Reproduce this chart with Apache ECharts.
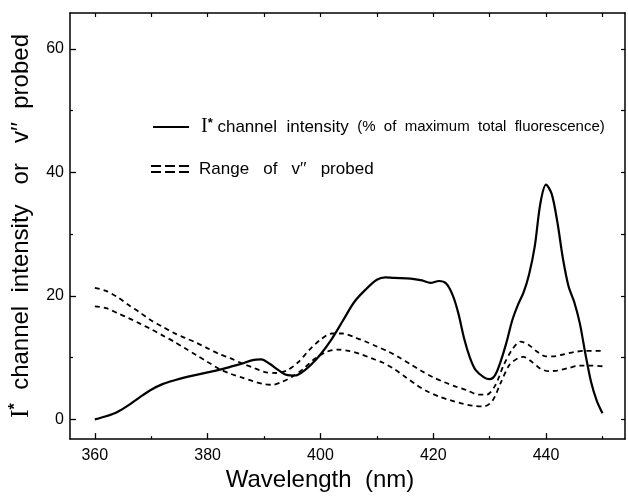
<!DOCTYPE html>
<html>
<head>
<meta charset="utf-8">
<script src="https://cdn.jsdelivr.net/npm/echarts@6/dist/echarts.min.js"></script>
<style>
html,body{margin:0;padding:0;background:#fff;}
#c{width:628px;height:497px;}
</style>
</head>
<body>
<div id="c"></div>
<script>
// ---- data ----
const xMajorTicks = [360, 380, 400, 420, 440];
const xMinorTicks = [370, 390, 410, 430, 450];
const xAllTicks = [360, 370, 380, 390, 400, 410, 420, 430, 440, 450];
const yMajorTicks = [0, 20, 40, 60];
const yMinorTicks = [10, 30, 50];
const yAllTicks = [0, 10, 20, 30, 40, 50, 60];

const intensityX = [360,362,364,366,368,370,372,374,376,378,380,382,384,386,388,389.5,391,392.5,394,395.5,397,398.5,400,402,404,406,408,410,411.5,413,416,418,419.5,421,422.3,423.5,424.5,425.5,426.5,427.5,429,430,431,432,433,434,435,436,437,438,439,440,441,442,443,444,445,446,447,448,449,450];
const intensityY = [0.0,0.5,1.2,2.3,3.6,4.8,5.7,6.3,6.8,7.2,7.6,8.0,8.5,9.0,9.6,9.7,9.0,8.0,7.2,7.1,7.8,9.0,10.5,13.0,16.0,19.0,21.0,22.6,23.0,22.9,22.8,22.5,22.1,22.4,22.0,20.0,17.0,13.0,10.0,8.0,6.8,6.5,7.2,9.5,12.5,16.0,18.5,20.5,23.5,28.0,35.0,38.0,36.5,32.0,26.0,21.5,19.0,15.5,10.5,6.0,3.0,1.0];

const upperX = [360,362,364,366,368,370,372,374,376,378,380,382,384,386,388,390,392,394,396,398,400,402,404,406,408,410,412,414,416,418,420,422,424,426,428,429.5,431,432.5,434,435.5,437,438.5,440,441.5,443,445,447,450];
const upperY = [21.3,20.8,19.8,18.5,17.3,16.0,15.0,14.0,13.2,12.4,11.5,10.6,9.9,9.1,8.4,7.7,7.5,7.9,9.2,11.2,12.9,13.9,13.9,13.3,12.6,11.8,11.0,10.0,8.9,7.8,6.8,6.0,5.3,4.7,4.0,4.0,5.5,8.8,11.3,12.6,12.0,10.9,10.2,10.2,10.5,10.9,11.1,11.1];

const lowerX = [360,362,364,366,368,370,372,374,376,378,380,382,384,386,388,390,391.5,393,395,397,399,401,403,405,407,409,411,413,415,417,419,421,423,425,427,429,430.5,432,433.5,435,436,437.5,439,440.5,442,444,446,448,450];
const lowerY = [18.3,18.0,17.2,16.4,15.5,14.6,13.6,12.6,11.5,10.4,9.3,8.2,7.4,6.8,6.2,5.7,5.6,6.0,6.9,8.2,9.8,10.9,11.3,11.1,10.6,9.9,9.2,8.2,6.9,5.6,4.5,3.7,3.1,2.6,2.2,2.1,3.0,6.0,8.8,9.9,10.1,9.3,8.2,7.8,7.9,8.3,8.7,8.7,8.6];

const zip = (xs, ys) => xs.map((x, i) => [x, ys[i]]);

const X_MIN = 355.6, X_MAX = 454.0, Y_MIN = -3.2, Y_MAX = 65.8;
const FONT = 'Liberation Sans, Arial, Helvetica, sans-serif';
const SERIF = 'Liberation Serif, Times New Roman, serif';

const frameLine = {show:true, onZero:false, lineStyle:{color:'#000', width:1.5}};
const noLine = {show:false, onZero:false};
const baseX = {type:'value', min:X_MIN, max:X_MAX, splitLine:{show:false}, axisLine:frameLine};
const baseY = {type:'value', min:Y_MIN, max:Y_MAX, splitLine:{show:false}, axisLine:frameLine};

const chart = echarts.init(document.getElementById('c'), null, {renderer:'canvas'});
chart.setOption({
  backgroundColor:'#fff',
  animation:false,
  grid:{left:70, right:3, top:13, bottom:57, containLabel:false},
  xAxis:[
    Object.assign({}, baseX, {position:'bottom',
      name:'Wavelength  (nm)', nameLocation:'middle', nameGap:24,
      nameTextStyle:{fontFamily:FONT, fontSize:24, color:'#000', padding:[0,55,0,0]},
      axisTick:{show:true, inside:true, length:6, customValues:xMajorTicks, lineStyle:{color:'#000', width:1.3}},
      axisLabel:{show:true, customValues:xMajorTicks, margin:8, fontFamily:FONT, fontSize:16, color:'#000'}}),
    Object.assign({}, baseX, {position:'bottom', axisLine:noLine,
      axisTick:{show:true, inside:true, length:3, customValues:xMinorTicks, lineStyle:{color:'#000', width:1.2}},
      axisLabel:{show:false}}),
    Object.assign({}, baseX, {position:'top',
      axisTick:{show:true, inside:true, length:4, customValues:xAllTicks, lineStyle:{color:'#000', width:1.2}},
      axisLabel:{show:false}})
  ],
  yAxis:[
    Object.assign({}, baseY, {position:'left',
      name:'{I|I}{s|*}{t|  channel  intensity   or   v′′  probed}',
      nameLocation:'middle', nameGap:36, nameRotate:90,
      nameTextStyle:{color:'#000', fontFamily:FONT, fontSize:24,
        rich:{
          I:{fontFamily:SERIF, fontSize:26, color:'#000'},
          s:{fontFamily:FONT, fontSize:16, fontWeight:'bold', color:'#000', verticalAlign:'top'},
          t:{fontFamily:FONT, fontSize:24, color:'#000'}
        }},
      axisTick:{show:true, inside:true, length:6, customValues:yMajorTicks, lineStyle:{color:'#000', width:1.3}},
      axisLabel:{show:true, customValues:yMajorTicks, margin:6, fontFamily:FONT, fontSize:16, color:'#000'}}),
    Object.assign({}, baseY, {position:'left', axisLine:noLine,
      axisTick:{show:true, inside:true, length:3, customValues:yMinorTicks, lineStyle:{color:'#000', width:1.2}},
      axisLabel:{show:false}}),
    Object.assign({}, baseY, {position:'right',
      axisTick:{show:true, inside:true, length:4, customValues:yAllTicks, lineStyle:{color:'#000', width:1.2}},
      axisLabel:{show:false}})
  ],
  series:[
    {name:'intensity', type:'line', xAxisIndex:0, yAxisIndex:0, data:zip(intensityX, intensityY),
      smooth:0.3, showSymbol:false, lineStyle:{color:'#000', width:2.2}},
    {name:'upper', type:'line', xAxisIndex:0, yAxisIndex:0, data:zip(upperX, upperY),
      smooth:0.3, showSymbol:false, lineStyle:{color:'#000', width:1.8, type:[5,4]}},
    {name:'lower', type:'line', xAxisIndex:0, yAxisIndex:0, data:zip(lowerX, lowerY),
      smooth:0.3, showSymbol:false, lineStyle:{color:'#000', width:1.8, type:[5,4]}}
  ],
  graphic:[
    {type:'line', shape:{x1:153, y1:127, x2:189, y2:127}, style:{stroke:'#000', lineWidth:2}},
    {type:'text', x:201, y:127, style:{
      text:'{I|I}{s|*}{t| channel  intensity}{p|  (%  of  maximum  total  fluorescence)}',
      verticalAlign:'middle', fill:'#000',
      rich:{
        I:{fontFamily:SERIF, fontSize:20, fill:'#000'},
        s:{fontFamily:FONT, fontSize:13, fontWeight:'bold', fill:'#000', verticalAlign:'top'},
        t:{fontFamily:FONT, fontSize:17, fill:'#000'},
        p:{fontFamily:FONT, fontSize:15, fill:'#000'}
      }}},
    {type:'line', shape:{x1:151, y1:166, x2:189, y2:166}, style:{stroke:'#000', lineWidth:2, lineDash:[10,4]}},
    {type:'line', shape:{x1:151, y1:172, x2:189, y2:172}, style:{stroke:'#000', lineWidth:2, lineDash:[10,4]}},
    {type:'text', x:199, y:169, style:{
      text:'Range   of   v′′   probed', verticalAlign:'middle', fill:'#000',
      fontFamily:FONT, fontSize:17}}
  ]
});
</script>
</body>
</html>
